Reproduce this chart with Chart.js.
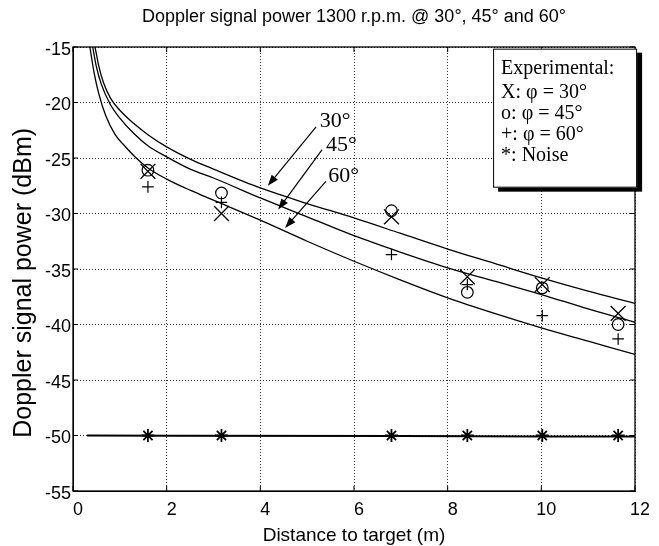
<!DOCTYPE html>
<html>
<head>
<meta charset="utf-8">
<script src="https://cdn.jsdelivr.net/npm/chart.js@4.4.1/dist/chart.umd.min.js"></script>
<style>
  html, body { margin: 0; padding: 0; background: #fff; }
  #wrap { width: 659px; height: 546px; }
</style>
</head>
<body>
<div id="wrap"><canvas id="dopplerChart" width="659" height="546"></canvas></div>
<script>
// Textos
const chartTitle = 'Doppler signal power 1300 r.p.m. @ 30°, 45° and 60°';
const xTitle = 'Distance to target (m)';
// los espacios finales bajan un poco el texto, como en el original
const yTitle = 'Doppler signal power (dBm)    ';
const legendLines = ['Experimental:', 'X: φ = 30°', 'o: φ = 45°', '+: φ = 60°', '*: Noise'];

// Ejes
const xTicks = [0, 2, 4, 6, 8, 10, 12];
const yTicks = [-55, -50, -45, -40, -35, -30, -25, -20, -15];

// Curvas teóricas (distancia en m, potencia en dBm)
const dist30 = [0.47, 0.55, 0.65, 0.8, 1.0, 1.3, 1.6, 2, 2.5, 3, 4, 5, 6, 7, 8, 9, 10, 11, 12];
const power30 = [-15, -16.7, -18.2, -19.6, -20.7, -21.9, -22.9, -24.0, -25.1, -26.0, -27.7, -29.1, -30.4, -31.8, -33.2, -34.5, -35.8, -37.0, -38.1];
const dist45 = [0.42, 0.5, 0.6, 0.8, 1.0, 1.3, 1.6, 2, 2.5, 3, 4, 5, 6, 7, 8, 9, 10, 11, 12];
const power45 = [-15, -16.8, -18.3, -20.2, -21.4, -22.8, -23.9, -24.9, -26.0, -26.8, -28.6, -30.3, -32.0, -33.5, -34.9, -36.1, -37.3, -38.6, -39.8];
const dist60 = [0.36, 0.45, 0.55, 0.7, 0.9, 1.1, 1.3, 1.6, 2, 2.5, 3, 4, 5, 6, 7, 8, 9, 10, 11, 12];
const power60 = [-15, -17.3, -19.2, -21.2, -22.9, -23.9, -24.8, -25.9, -26.9, -27.9, -28.8, -30.6, -32.5, -34.3, -36.0, -37.6, -39.0, -40.3, -41.5, -42.7];

// Nivel de ruido
const noiseLineDist = [0.3, 7, 12];
const noiseLinePower = [-50, -50.05, -50.1];

// Medidas experimentales
const measDist = [1.6, 3.17, 6.8, 8.42, 10.02, 11.64];
const meas30 = [-26.2, -30.0, -30.3, -35.7, -36.4, -39.0];
const meas45 = [-26.1, -28.15, -29.75, -37.1, -36.7, -40.0];
const meas60 = [-27.6, -29.0, -33.7, -36.4, -39.2, -41.3];
const measNoise = [-50, -50, -50, -50, -50, -50];

// Etiquetas de las curvas con flecha
const curveLabels = ['30°', '45°', '60°'];
const labelDist = [5.27, 5.40, 5.45];
const labelPower = [-22.2, -24.4, -27.2];
const arrowFromDist = [5.19, 5.32, 5.40];
const arrowFromPower = [-22.2, -24.25, -27.1];
const arrowToDist = [4.16, 4.38, 4.53];
const arrowToPower = [-27.5, -29.65, -31.3];

// Esquina del recuadro de leyenda
const legendDist = 8.97;
const legendPower = -15.15;

const toXY = (xs, ys) => xs.map((x, i) => ({ x: x, y: ys[i] }));

function curve(label, xs, ys, width) {
    return {
        label: label,
        data: toXY(xs, ys),
        showLine: true,
        pointRadius: 0,
        borderColor: '#000',
        borderWidth: width,
        cubicInterpolationMode: 'monotone'
    };
}

function markers(label, ys, style, radius, width) {
    return {
        label: label,
        data: toXY(measDist, ys),
        showLine: false,
        pointStyle: style,
        pointRadius: radius,
        borderColor: '#000',
        backgroundColor: 'transparent',
        pointBorderWidth: width
    };
}

// Marco, marcas interiores, etiquetas y recuadro
const extrasPlugin = {
    id: 'extras',
    afterDatasetsDraw(chart) {
        const { ctx, chartArea: a, scales: { x, y } } = chart;
        ctx.save();
        ctx.strokeStyle = '#000';
        ctx.fillStyle = '#000';

        ctx.lineWidth = 1.3;
        ctx.strokeRect(a.left, a.top, a.right - a.left, a.bottom - a.top);

        ctx.lineWidth = 1;
        ctx.beginPath();
        xTicks.forEach(v => {
            const px = x.getPixelForValue(v);
            ctx.moveTo(px, a.bottom); ctx.lineTo(px, a.bottom - 5);
            ctx.moveTo(px, a.top); ctx.lineTo(px, a.top + 5);
        });
        yTicks.forEach(v => {
            const py = y.getPixelForValue(v);
            ctx.moveTo(a.left, py); ctx.lineTo(a.left + 5, py);
            ctx.moveTo(a.right, py); ctx.lineTo(a.right - 5, py);
        });
        ctx.stroke();

        // flechas
        ctx.font = '22px "Liberation Serif", "Times New Roman", serif';
        ctx.textBaseline = 'alphabetic';
        curveLabels.forEach((txt, i) => {
            ctx.fillText(txt, x.getPixelForValue(labelDist[i]), y.getPixelForValue(labelPower[i]));
            const x0 = x.getPixelForValue(arrowFromDist[i]), y0 = y.getPixelForValue(arrowFromPower[i]);
            const x1 = x.getPixelForValue(arrowToDist[i]), y1 = y.getPixelForValue(arrowToPower[i]);
            const ang = Math.atan2(y1 - y0, x1 - x0);
            ctx.lineWidth = 1.2;
            ctx.beginPath();
            ctx.moveTo(x0, y0);
            ctx.lineTo(x1 - 8 * Math.cos(ang), y1 - 8 * Math.sin(ang));
            ctx.stroke();
            ctx.beginPath();
            ctx.moveTo(x1, y1);
            ctx.lineTo(x1 - 11 * Math.cos(ang) + 4 * Math.sin(ang), y1 - 11 * Math.sin(ang) - 4 * Math.cos(ang));
            ctx.lineTo(x1 - 11 * Math.cos(ang) - 4 * Math.sin(ang), y1 - 11 * Math.sin(ang) + 4 * Math.cos(ang));
            ctx.closePath();
            ctx.fill();
        });

        // recuadro "Experimental"
        const bx = x.getPixelForValue(legendDist), by = y.getPixelForValue(legendPower);
        const bw = 144, bh = 139;
        ctx.fillStyle = '#000';
        ctx.fillRect(bx + 5, by + 4, bw, bh);
        ctx.fillStyle = '#fff';
        ctx.fillRect(bx, by, bw, bh);
        ctx.lineWidth = 1;
        ctx.strokeRect(bx + 0.5, by + 0.5, bw - 1, bh - 1);
        ctx.fillStyle = '#000';
        ctx.font = '20px "Liberation Serif", "Times New Roman", serif';
        const baselines = [25, 49, 70, 91, 112];
        legendLines.forEach((t, i) => ctx.fillText(t, bx + 8, by + baselines[i]));
        ctx.restore();
    }
};

const sans = '"Liberation Sans", Arial, sans-serif';
const tickFont = { family: sans, size: 18 };

new Chart(document.getElementById('dopplerChart'), {
    type: 'scatter',
    data: {
        datasets: [
            curve('30°', dist30, power30, 1.3),
            curve('45°', dist45, power45, 1.3),
            curve('60°', dist60, power60, 1.3),
            curve('Noise level', noiseLineDist, noiseLinePower, 2),
            markers('X: 30°', meas30, 'crossRot', 10.5, 1.3),
            markers('o: 45°', meas45, 'circle', 5.8, 1.2),
            markers('+: 60°', meas60, 'cross', 5.8, 1.2),
            markers('*: Noise', measNoise, 'star', 6.5, 1.8)
        ]
    },
    options: {
        responsive: false,
        animation: false,
        devicePixelRatio: 1,
        layout: { padding: { left: 0, right: 24, top: 0, bottom: 0 } },
        plugins: {
            legend: { display: false },
            tooltip: { enabled: false },
            title: {
                display: true,
                text: chartTitle,
                fullSize: false,
                color: '#000',
                font: { family: sans, size: 18, weight: 'normal' },
                padding: { top: 6, bottom: 19.4 }
            }
        },
        scales: {
            x: {
                type: 'linear',
                min: 0,
                max: 12,
                afterBuildTicks: s => { s.ticks = xTicks.map(v => ({ value: v })); },
                afterFit: s => { s.height = 55; },
                grid: { color: '#000', lineWidth: 0.8, drawTicks: false },
                border: { display: true, color: '#000', dash: [1, 2] },
                ticks: { color: '#000', font: tickFont, padding: 8, labelOffset: 5, maxRotation: 0 },
                title: { display: true, text: xTitle, color: '#000', font: { family: sans, size: 19 }, padding: { top: 0, bottom: -1 } }
            },
            y: {
                type: 'linear',
                min: -55,
                max: -15,
                afterBuildTicks: s => { s.ticks = yTicks.map(v => ({ value: v })); },
                afterFit: s => { s.width = 73; },
                grid: { color: '#000', lineWidth: 0.8, drawTicks: false },
                border: { display: true, color: '#000', dash: [1, 2] },
                ticks: { color: '#000', font: tickFont, padding: 2, labelOffset: 3 },
                title: { display: true, text: yTitle, color: '#000', font: { family: sans, size: 25 }, padding: { top: 9, bottom: 0 } }
            }
        }
    },
    plugins: [extrasPlugin]
});
</script>
</body>
</html>
